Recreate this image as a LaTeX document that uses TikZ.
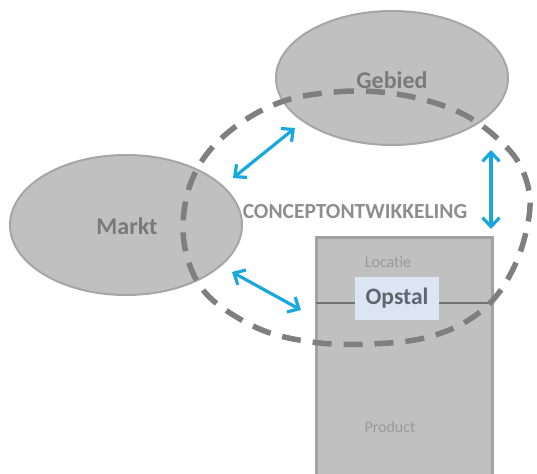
\documentclass[tikz,border=0pt]{standalone}
\usepackage{fontspec}
\setmainfont[Ligatures=NoCommon]{Carlito}
\usetikzlibrary{arrows.meta}
\definecolor{shapefill}{HTML}{C0C0C0}
\definecolor{shapeedge}{HTML}{A6A6A6}
\definecolor{boxedge}{HTML}{A2A2A2}
\definecolor{dashgrey}{HTML}{7F7F7F}
\definecolor{linkblue}{HTML}{1AA7E0}
\definecolor{labelgrey}{HTML}{7A7A7A}
\definecolor{smallgrey}{HTML}{9A9A9A}
\definecolor{titlegrey}{HTML}{8E8E8E}
\definecolor{opstalfill}{HTML}{DCE6F2}
\definecolor{opstaltext}{HTML}{5F6670}
\tikzset{
  biglabel/.style={text=labelgrey, font=\bfseries\fontsize{24}{29}\selectfont},
  smalllabel/.style={text=smallgrey, font=\fontsize{16}{19}\selectfont},
  barb/.tip={Straight Barb[length=9pt,width=17pt,line width=3.2pt]},
  link/.style={draw=linkblue, line width=3.2pt, {barb}-{barb}},
  loop/.style={draw=dashgrey, line width=5.5pt, dash pattern=on 19pt off 12pt},
}
\begin{document}
\begin{tikzpicture}[x=1pt,y=-1pt]
\useasboundingbox (0,0) rectangle (537,473);

% the three areas
\fill[shapefill] (126,225) ellipse[x radius=116, y radius=70];
\draw[shapeedge, line width=2pt] (126,225) ellipse[x radius=116, y radius=70];
\fill[shapefill] (392,78) ellipse[x radius=116, y radius=67];
\draw[shapeedge, line width=2pt] (392,78) ellipse[x radius=116, y radius=67];
\node[biglabel] (markt) at (127,226) {Markt};
\node[biglabel] (gebied) at (392,80) {Gebied};

% product column with the building layer
\draw[fill=shapefill, draw=boxedge, line width=3pt] (316,237) rectangle (492,476);
\coordinate (lineL) at (316,303);
\coordinate (lineR) at (490,303);
\draw[draw=dashgrey!90!black, line width=2.5pt] (lineL) -- (lineR);
\node[fill=opstalfill, minimum width=84pt, minimum height=43pt, inner sep=0pt,
      text=opstaltext, font=\bfseries\fontsize{23.5}{28}\selectfont] (opstal) at (397,298.5) {Opstal};
\node[smalllabel] (locatie) at (388,262) {Locatie};
\node[smalllabel] (product) at (390,427) {Product};

% concept development loop
\draw[loop] plot[smooth cycle, tension=0.6] coordinates {
  (287,100) (335,92) (380,92) (425,100) (465,115) (497,138) (520,165)
  (530,200) (524,240) (510,275) (490,303) (460,325) (420,339) (370,344)
  (320,343) (270,333) (230,313) (203,290) (188,260) (183,225) (190,185)
  (210,150) (245,120)};

\node[text=titlegrey, font=\bfseries\fontsize{21.5}{25}\selectfont] (concept) at (355,212) {CONCEPTONTWIKKELING};

% relations
\coordinate (a1s) at (233,178); \coordinate (a1e) at (295,128);
\coordinate (a2s) at (491,150); \coordinate (a2e) at (491,229);
\coordinate (a3s) at (232,272); \coordinate (a3e) at (301,310);
\draw[link] (a1s) -- (a1e);
\draw[link] (a2s) -- (a2e);
\draw[link] (a3s) -- (a3e);
\end{tikzpicture}
\end{document}
